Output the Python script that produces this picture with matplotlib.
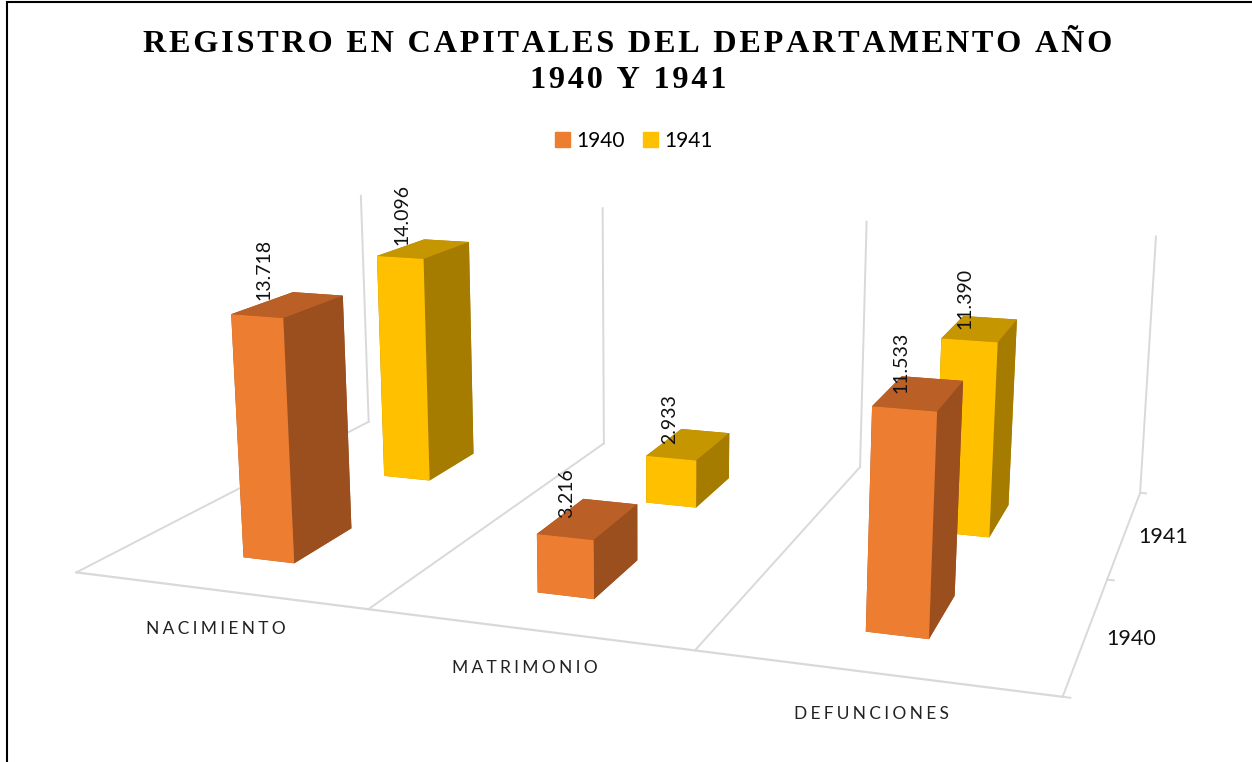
import numpy as np
import matplotlib
matplotlib.use("Agg")
import matplotlib.pyplot as plt
from matplotlib.patches import Patch, Rectangle
from mpl_toolkits.mplot3d import proj3d

categories = ["NACIMIENTO", "MATRIMONIO", "DEFUNCIONES"]
years = ["1940", "1941"]
values_1940 = [13718, 3216, 11533]
values_1941 = [14096, 2933, 11390]
title = "REGISTRO EN CAPITALES DEL DEPARTAMENTO AÑO\n1940 Y 1941"

W, H = 1252, 762
HAIR = "\u200a"
THIN = "\u2009"
GRID = "#D9D9D9"
# front, top, side colours of each series
face_1940 = ("#ED7D31", "#BA5F26", "#9C4F1E")
face_1941 = ("#FFC000", "#C59600", "#A67C00")


def fmt(v):
    return f"{v:,}".replace(",", ".")


fig = plt.figure(figsize=(W / 100, H / 100), dpi=100)
fig.add_artist(Rectangle((6.5 / W, -0.1), 1.2, 1.1 - 2.5 / H, transform=fig.transFigure,
                         fill=False, ec="black", lw=1.5))

# camera fitted to the floor corners of the original
ax = fig.add_axes([71.7 / W, -204.66 / H, 1110.43 / W, 1110.43 / H], projection="3d", computed_zorder=False)
ax.view_init(elev=13.7729, azim=-70.5745, roll=0.0306)
ax.set_proj_type("persp", focal_length=0.3303)
ax.set_box_aspect((1, 0.6537, 0.3014))
ax.set_axis_off()
ax.patch.set_visible(False)

ZMAX = 15900
ax.set_xlim(0, 3)
ax.set_ylim(0, 2)
ax.set_zlim(0, ZMAX)
M = ax.get_proj()


def label(x, y, z, s, dx=0, dy=0, **kw):
    xp, yp, _ = proj3d.proj_transform(x, y, z, M)
    ax.annotate(s, xy=(xp, yp), xycoords="data", xytext=(dx, dy), textcoords="offset pixels",
                annotation_clip=False, zorder=20, **kw)


for i in range(4):
    ax.plot([i, i], [0, 2], [0, 0], color=GRID, lw=1.4, zorder=1)
    ax.plot([i, i], [2, 2], [0, ZMAX], color=GRID, lw=1.4, zorder=1)
ax.plot([0, 3], [0, 0], [0, 0], color=GRID, lw=1.6, zorder=1)
for yt in [0, 1, 2]:
    ax.plot([3, 3.02], [yt, yt], [0, 0], color=GRID, lw=1.4, zorder=1)

BAR_W, BAR_D = 0.18, 0.39
label_x = [0.415, 0.43, 0.45]
label_dy = [3, -1, -1]
for s, vals, cols in [(1, values_1941, face_1941), (0, values_1940, face_1940)]:
    front, top, side = cols
    for i, v in enumerate(vals):
        ax.bar3d(i + 0.5 - BAR_W / 2, s + 0.5 - BAR_D / 2, 0, BAR_W, BAR_D, v,
                 color=[top, top, front, side, side, side], shade=False,
                 linewidth=0, zorder=10 - s)
        label(i + label_x[i], s + 0.5, v, fmt(v), dy=label_dy[i], rotation=90, ha="center", va="bottom",
              family="Lato", fontsize=14, color="#111111")

cat_dy = [-39, -39, -41]
for i, c in enumerate(categories):
    label(i + 0.5, 0, 0, (THIN + HAIR).join(c), dx=-2, dy=cat_dy[i], ha="center", va="center", family="Lato",
          fontsize=12.5, color="#222222")
for s, y in enumerate(years):
    label(3.12, s + 0.5, 0, y, dx=1, dy=-0.5, ha="center", va="center", family="Lato", fontsize=15.5,
          color="#111111")

fig.text(628 / W, 1 - 62.5 / H, "\n".join(HAIR.join(t) for t in title.split("\n")), ha="center", va="center",
         family="Liberation Serif", weight="bold", fontsize=23.2, color="black", linespacing=1.31)

handles = [Patch(color=face_1940[0], label=years[0]), Patch(color=face_1941[0], label=years[1])]
fig.legend(handles=handles, loc="center", bbox_to_anchor=(634 / W, 1 - 141 / H), ncol=2, frameon=False,
           handlelength=0.72, handleheight=0.72, handletextpad=0.3, columnspacing=0.9,
           prop={"family": "Lato", "size": 15})

fig.savefig("out.png", dpi=100)
